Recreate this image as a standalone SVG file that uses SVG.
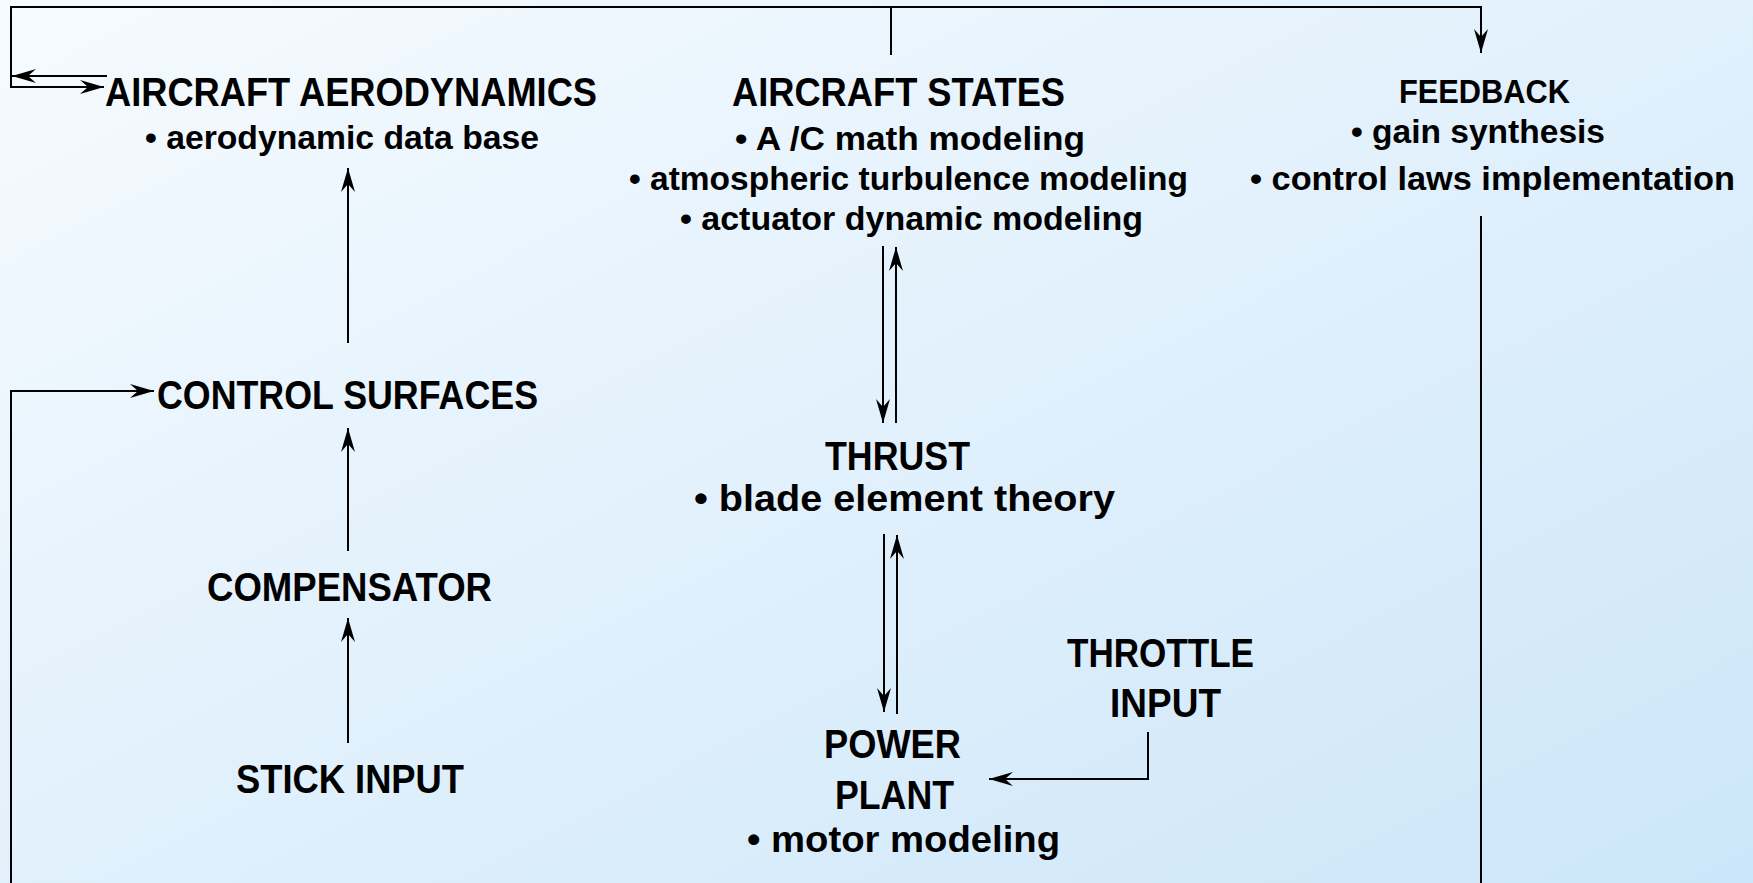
<svg xmlns="http://www.w3.org/2000/svg" width="1753" height="883" viewBox="0 0 1753 883">
<defs>
<linearGradient id="bg" x1="0" y1="0" x2="1" y2="1">
<stop offset="0" stop-color="#f6fbff"/>
<stop offset="1" stop-color="#cce6f9"/>
</linearGradient>
<marker id="ah" markerUnits="userSpaceOnUse" markerWidth="30" markerHeight="20" viewBox="-26 -10 30 20" refX="0" refY="0" orient="auto">
<path d="M0,0 L-24,-7 L-16,0 L-24,7 Z" fill="#000"/>
</marker>
<style>
.t{font-family:"Liberation Sans",Arial,sans-serif;font-weight:bold;fill:#000;}
.h{font-size:40px;}
.s{font-size:33px;}
.m{font-size:37px;}
.c line,.c path{stroke:#000;stroke-width:2;fill:none;}
.a{marker-end:url(#ah);}
</style>
</defs>
<rect x="0" y="0" width="1753" height="883" fill="url(#bg)"/>
<g class="c" id="connectors">
<path d="M104,87 L11,87 L11,7 L1481,7 L1481,53" class="a"/>
<line x1="11" y1="87" x2="104" y2="87" class="a"/>
<line x1="107" y1="76" x2="12" y2="76" class="a"/>
<line x1="891" y1="7" x2="891" y2="55"/>
<line x1="348" y1="343" x2="348" y2="168" class="a"/>
<line x1="348" y1="551" x2="348" y2="428" class="a"/>
<line x1="348" y1="743" x2="348" y2="618" class="a"/>
<path d="M11,883 L11,391 L154,391" class="a"/>
<line x1="883" y1="246" x2="883" y2="423" class="a"/>
<line x1="896" y1="423" x2="896" y2="247" class="a"/>
<line x1="884" y1="534" x2="884" y2="712" class="a"/>
<line x1="897" y1="714" x2="897" y2="535" class="a"/>
<path d="M1148,732 L1148,779 L989,779" class="a"/>
<line x1="1481" y1="216" x2="1481" y2="883"/>
</g>
<g id="aero">
<text class="t h" x="105" y="106" textLength="492" lengthAdjust="spacingAndGlyphs">AIRCRAFT AERODYNAMICS</text>
<text class="t s" x="145" y="149" textLength="394" lengthAdjust="spacingAndGlyphs">• aerodynamic data base</text>
</g>
<g id="states">
<text class="t h" x="732" y="106" textLength="333" lengthAdjust="spacingAndGlyphs">AIRCRAFT STATES</text>
<text class="t s" x="735" y="150" textLength="350" lengthAdjust="spacingAndGlyphs">•  A /C math modeling</text>
<text class="t s" x="629" y="190" textLength="559" lengthAdjust="spacingAndGlyphs">• atmospheric turbulence modeling</text>
<text class="t s" x="680" y="230" textLength="463" lengthAdjust="spacingAndGlyphs">• actuator dynamic modeling</text>
</g>
<g id="feedback">
<text class="t s" x="1399" y="103" textLength="171" lengthAdjust="spacingAndGlyphs">FEEDBACK</text>
<text class="t s" x="1351" y="143" textLength="254" lengthAdjust="spacingAndGlyphs">• gain synthesis</text>
<text class="t s" x="1250" y="190" textLength="485" lengthAdjust="spacingAndGlyphs">• control laws implementation</text>
</g>
<g id="surfaces">
<text class="t h" x="157" y="409" textLength="381" lengthAdjust="spacingAndGlyphs">CONTROL SURFACES</text>
</g>
<g id="compensator">
<text class="t h" x="207" y="601" textLength="285" lengthAdjust="spacingAndGlyphs">COMPENSATOR</text>
</g>
<g id="stick">
<text class="t h" x="236" y="793" textLength="228" lengthAdjust="spacingAndGlyphs">STICK INPUT</text>
</g>
<g id="thrust">
<text class="t h" x="825" y="470" textLength="145" lengthAdjust="spacingAndGlyphs">THRUST</text>
<text class="t m" x="694" y="511" textLength="421" lengthAdjust="spacingAndGlyphs">• blade element theory</text>
</g>
<g id="throttle">
<text class="t h" x="1067" y="667" textLength="187" lengthAdjust="spacingAndGlyphs">THROTTLE</text>
<text class="t h" x="1110" y="717" textLength="111" lengthAdjust="spacingAndGlyphs">INPUT</text>
</g>
<g id="power">
<text class="t h" x="824" y="758" textLength="137" lengthAdjust="spacingAndGlyphs">POWER</text>
<text class="t h" x="835" y="809" textLength="119" lengthAdjust="spacingAndGlyphs">PLANT</text>
<text class="t m" x="747" y="852" textLength="313" lengthAdjust="spacingAndGlyphs">• motor modeling</text>
</g>
</svg>
